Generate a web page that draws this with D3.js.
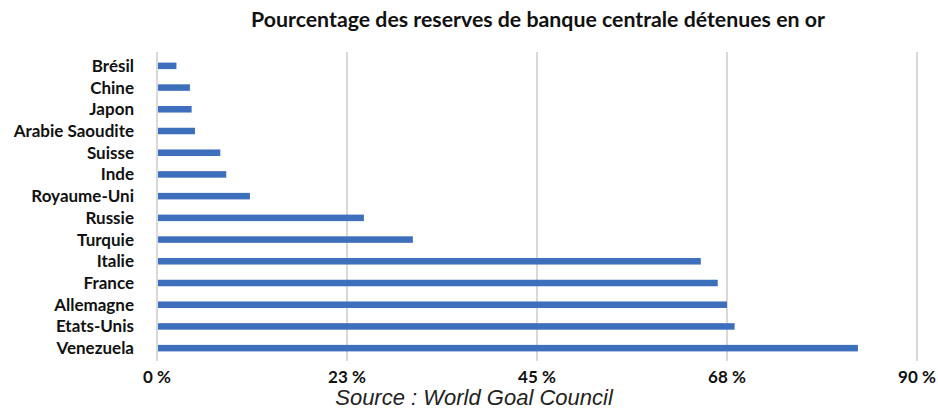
<!DOCTYPE html>
<html>
<head>
<meta charset="utf-8">
<script src="https://cdn.jsdelivr.net/npm/d3@7.9.0/dist/d3.min.js"></script>
<style>
  body { margin: 0; background: #fff; }
  svg { display: block; }
  .title { font-family: Lato, 'Open Sans', sans-serif; font-weight: bold; font-size: 21.3px; fill: #111; }
  .lbl { font-family: Lato, 'Open Sans', sans-serif; font-weight: bold; font-size: 17px; fill: #111; }
  .source { font-family: 'Liberation Sans', Arial, sans-serif; font-style: italic; font-size: 22px; fill: #222; }
</style>
</head>
<body>
<svg id="chart" width="938" height="412"></svg>
<script>
const countries = ['Brésil', 'Chine', 'Japon', 'Arabie Saoudite', 'Suisse', 'Inde', 'Royaume-Uni',
  'Russie', 'Turquie', 'Italie', 'France', 'Allemagne', 'Etats-Unis', 'Venezuela'];
const goldShare = [2.3, 3.9, 4.1, 4.5, 7.5, 8.2, 11.0, 24.5, 30.3, 64.4, 66.4, 67.5, 68.4, 83.0];
const tickValues = [0, 22.5, 45, 67.5, 90];
const tickLabels = ['0 %', '23 %', '45 %', '68 %', '90 %'];

const data = countries.map((c, i) => ({ name: c, value: goldShare[i] }));

const svg = d3.select('#chart');
const x = d3.scaleLinear().domain([0, 90]).range([157, 917]);
const y = d3.scaleBand().domain(countries).range([55, 359]).paddingInner(0.7).paddingOuter(0.35);

// grid lines
svg.append('g')
  .selectAll('line')
  .data(tickValues)
  .join('line')
  .attr('x1', d => x(d)).attr('x2', d => x(d))
  .attr('y1', 52).attr('y2', 361)
  .attr('stroke', '#d9d9d9')
  .attr('stroke-width', 2);

// bars
svg.append('g')
  .selectAll('rect')
  .data(data)
  .join('rect')
  .attr('x', x(0) + 1)
  .attr('y', d => y(d.name))
  .attr('width', d => x(d.value) - x(0) - 1)
  .attr('height', y.bandwidth())
  .attr('fill', '#3d6fbd');

// category labels
svg.append('g')
  .selectAll('text')
  .data(countries)
  .join('text')
  .attr('class', 'lbl')
  .attr('x', 134)
  .attr('y', d => y(d) + y.bandwidth() / 2)
  .attr('dy', '0.35em')
  .attr('text-anchor', 'end')
  .text(d => d);

// x tick labels
svg.append('g')
  .selectAll('text')
  .data(tickValues)
  .join('text')
  .attr('class', 'lbl')
  .attr('x', d => x(d))
  .attr('y', 383)
  .attr('text-anchor', 'middle')
  .text((d, i) => tickLabels[i]);

svg.append('text')
  .attr('class', 'title')
  .attr('x', 538)
  .attr('y', 27)
  .attr('text-anchor', 'middle')
  .text('Pourcentage des reserves de banque centrale détenues en or');

svg.append('text')
  .attr('class', 'source')
  .attr('x', 474)
  .attr('y', 405)
  .attr('text-anchor', 'middle')
  .text('Source : World Goal Council');
</script>
</body>
</html>
